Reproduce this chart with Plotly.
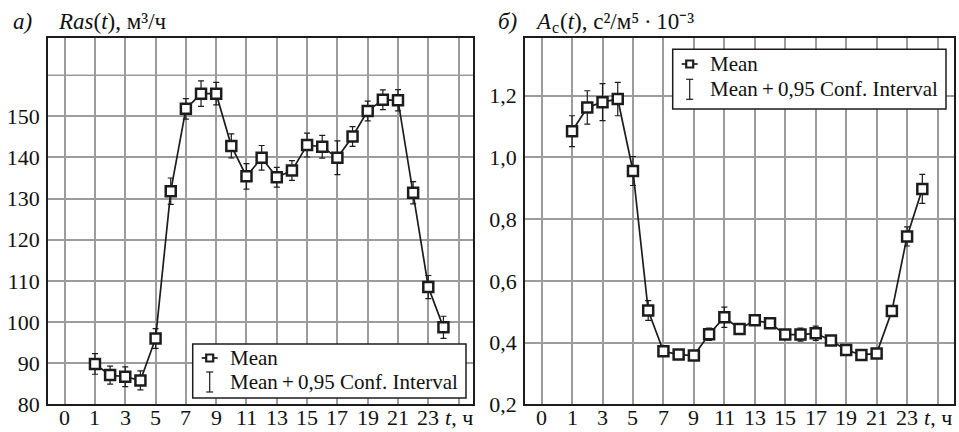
import plotly.graph_objects as go

# ---------------- data ----------------
hours = [1, 2, 3, 4, 5, 6, 7, 8, 9, 10, 11, 12, 13, 14, 15, 16, 17, 18, 19, 20, 21, 22, 23, 24]

ras_mean = [89.8, 87.1, 86.7, 85.8, 96.0, 131.8, 151.8, 155.5, 155.5, 142.8, 135.4, 139.9,
            135.2, 136.8, 143.0, 142.6, 139.9, 145.1, 151.3, 154.0, 153.9, 131.4, 108.5, 98.7]
ras_ci = [2.5, 2.2, 2.4, 2.3, 2.4, 3.2, 2.5, 3.1, 2.75, 2.9, 3.1, 3.0,
          2.4, 2.4, 2.9, 2.75, 4.1, 2.4, 2.4, 2.4, 2.6, 2.7, 2.8, 2.7]

ac_mean = [1.085, 1.162, 1.179, 1.189, 0.956, 0.504, 0.372, 0.361, 0.358, 0.427, 0.482, 0.444,
           0.472, 0.463, 0.426, 0.426, 0.430, 0.407, 0.376, 0.360, 0.365, 0.502, 0.744, 0.898]
ac_ci = [0.050, 0.054, 0.060, 0.054, 0.047, 0.032, 0.007, 0.005, 0.005, 0.020, 0.033, 0.008,
         0.010, 0.008, 0.010, 0.021, 0.023, 0.008, 0.010, 0.006, 0.010, 0.008, 0.031, 0.047]

x_tickvals = [-1, 1, 3, 5, 7, 9, 11, 13, 15, 17, 19, 21, 23, 25]
x_ticktext = ["0", "1", "3", "5", "7", "9", "11", "13", "15", "17", "19", "21", "23", "<i>t</i>, ч"]

ras_tickvals = [80, 90, 100, 110, 120, 130, 140, 150]
ras_ticktext = ["80", "90", "100", "110", "120", "130", "140", "150"]
ras_extra_grid = [160]

ac_tickvals = [0.2, 0.4, 0.6, 0.8, 1.0, 1.2]
ac_ticktext = ["0,2", "0,4", "0,6", "0,8", "1,0", "1,2"]

legend_labels = ["Mean", "Mean\u2009+\u20090,95 Conf. Interval"]

# ---------------- figure ----------------
W, H = 959, 432
FONT = "Liberation Serif"
GRID = "#9c9c9c"
INK = "#1c1c1c"


def px(x):
    return x / W


def py(y):
    return 1 - y / H


fig = go.Figure()

for i, (mean, ci) in enumerate([(ras_mean, ras_ci), (ac_mean, ac_ci)]):
    fig.add_trace(go.Scatter(
        x=hours, y=mean,
        xaxis="x" if i == 0 else "x2", yaxis="y" if i == 0 else "y2",
        mode="lines+markers",
        line=dict(color=INK, width=1.7),
        marker=dict(symbol="square", size=10, color="white", line=dict(color=INK, width=2.5)),
        error_y=dict(type="data", array=ci, visible=True, color=INK, thickness=1.2, width=3),
        showlegend=False,
    ))

ydom = [py(404.3), py(38.3)]
axis_common = dict(
    showgrid=True, gridcolor=GRID, gridwidth=1.5, automargin=False,
    showline=True, linecolor=INK, linewidth=1.5, mirror=True,
    zeroline=False, ticks="", tickfont=dict(family=FONT, size=22, color="#111"),
)

fig.update_layout(
    width=W, height=H,
    margin=dict(l=0, r=0, t=0, b=0),
    paper_bgcolor="white", plot_bgcolor="white",
    font=dict(family=FONT, color="#111"),
    xaxis=dict(domain=[px(48), px(473)], range=[-2.1, 25.95], anchor="y", showticklabels=False,
               tickmode="array", tickvals=x_tickvals, **axis_common),
    yaxis=dict(domain=ydom, range=[80, 168.95], anchor="x", ticklabelstandoff=2,
               tickmode="array", tickvals=ras_tickvals, ticktext=ras_ticktext, **axis_common),
    xaxis2=dict(domain=[px(525), px(954)], range=[-2.09, 26.08], anchor="y2", showticklabels=False,
                tickmode="array", tickvals=x_tickvals, **axis_common),
    yaxis2=dict(domain=ydom, range=[0.2, 1.386], anchor="x2", ticklabelstandoff=2,
                tickmode="array", tickvals=ac_tickvals, ticktext=ac_ticktext, **axis_common),
)

shapes = []
annotations = []

# x tick labels placed on the axes' own scale (kept inside the page)
for xref in ("x", "x2"):
    for v, t in zip(x_tickvals, x_ticktext):
        annotations.append(dict(text=t, xref=xref, yref="paper", x=v, y=py(431),
                                xanchor="center", yanchor="bottom", showarrow=False, borderpad=0,
                                font=dict(family=FONT, size=22, color="#111")))

# unlabeled gridline at 160 on the left chart
for g in ras_extra_grid:
    shapes.append(dict(type="line", xref="x domain", yref="y", x0=0, x1=1, y0=g, y1=g,
                       line=dict(color=GRID, width=1.5), layer="below"))


def add_legend(left, top, right, bottom, row1, row2):
    shapes.append(dict(type="rect", xref="paper", yref="paper",
                       x0=px(left), x1=px(right), y0=py(bottom), y1=py(top),
                       fillcolor="white", line=dict(color=INK, width=1.5), layer="above"))
    cx = left + 17
    # mean icon
    shapes.append(dict(type="line", xref="paper", yref="paper",
                       x0=px(cx - 8), x1=px(cx + 8), y0=py(row1), y1=py(row1),
                       line=dict(color=INK, width=1.7)))
    shapes.append(dict(type="rect", xref="paper", yref="paper",
                       x0=px(cx - 3.5), x1=px(cx + 3.5), y0=py(row1 + 3.5), y1=py(row1 - 3.5),
                       fillcolor="white", line=dict(color=INK, width=2.2)))
    # CI icon
    shapes.append(dict(type="line", xref="paper", yref="paper",
                       x0=px(cx), x1=px(cx), y0=py(row2 - 10), y1=py(row2 + 10),
                       line=dict(color=INK, width=1.2)))
    for yy in (row2 - 10, row2 + 10):
        shapes.append(dict(type="line", xref="paper", yref="paper",
                           x0=px(cx - 3.5), x1=px(cx + 3.5), y0=py(yy), y1=py(yy),
                           line=dict(color=INK, width=1.2)))
    for lab, ry in zip(legend_labels, (row1, row2)):
        annotations.append(dict(text=lab, xref="paper", yref="paper", x=px(left + 35), y=py(ry),
                                xanchor="left", yanchor="middle", showarrow=False,
                                font=dict(family=FONT, size=21, color="#111")))


add_legend(192.7, 344, 466, 398, 358, 382)
add_legend(672.7, 49.3, 946, 109, 64, 89.3)

# titles (unicode super-scripts; subscript as a separate small text)
title_items = [
    (12, 21, 23, "<i>а)</i>"),
    (57, 21, 23, "<i>Ras</i>(<i>t</i>), м³/ч"),
    (497, 21, 23, "<i>б)</i>"),
    (534, 21, 23, "<i>A</i>"),
    (551, 28, 16, "с"),
    (559, 21, 23, "(<i>t</i>), с²/м⁵\u2009·\u200910⁻³"),
]
for x, y, s, txt in title_items:
    annotations.append(dict(text=txt, xref="paper", yref="paper", x=px(x), y=py(y),
                            xanchor="left", yanchor="middle", showarrow=False, borderpad=0,
                            font=dict(family=FONT, size=s, color="#111")))

fig.update_layout(shapes=shapes, annotations=annotations)
fig.write_html("out.html")
